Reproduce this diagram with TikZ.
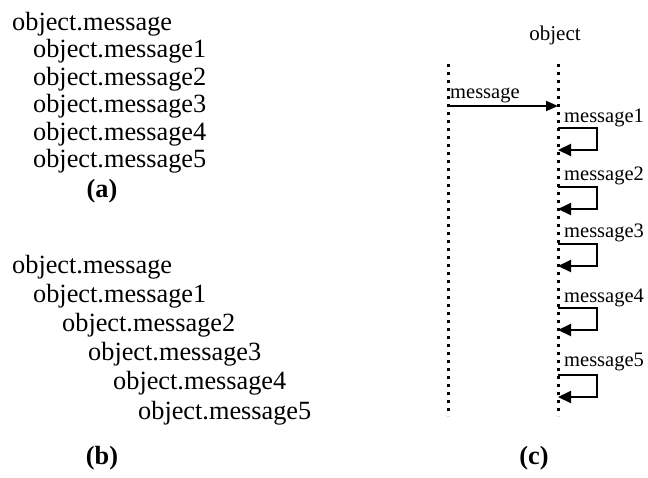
\documentclass[tikz,border=0pt]{standalone}
\usepackage{fontspec}
\setmainfont{Liberation Serif}
\usetikzlibrary{arrows.meta}
\begin{document}
\begin{tikzpicture}[x=1pt,y=-1pt,
  bigtxt/.style={anchor=base west,inner sep=0pt,font=\fontsize{26.3}{30}\selectfont},
  captxt/.style={anchor=base,inner sep=0pt,font=\fontsize{26.3}{30}\selectfont\bfseries},
  smalltxt/.style={anchor=base west,inner sep=0pt,font=\fontsize{20.5}{24}\selectfont},
  lifeline/.style={line width=3pt,dash pattern=on 3pt off 5pt},
  msgarrow/.style={line width=2pt,-{Triangle[length=12pt,width=10pt]}},
  selfloop/.style={line width=2pt,-{Triangle[length=13pt,width=12pt]}}]
\useasboundingbox (0,0) rectangle (648,477);
% (a)
\node[bigtxt] (a0) at (12,30) {object.message};
\node[bigtxt] (a1) at (33,57.5) {object.message1};
\node[bigtxt] (a2) at (33,85) {object.message2};
\node[bigtxt] (a3) at (33,112.5) {object.message3};
\node[bigtxt] (a4) at (33,140) {object.message4};
\node[bigtxt] (a5) at (33,167.5) {object.message5};
\node[captxt] (acap) at (102,197) {(a)};
% (b)
\node[bigtxt] (b0) at (12,273) {object.message};
\node[bigtxt] (b1) at (33,302) {object.message1};
\node[bigtxt] (b2) at (62,331) {object.message2};
\node[bigtxt] (b3) at (88,360) {object.message3};
\node[bigtxt] (b4) at (113,389) {object.message4};
\node[bigtxt] (b5) at (138,419) {object.message5};
\node[captxt] (bcap) at (102,464) {(b)};
% (c)
\coordinate (Ltop) at (448,64);
\coordinate (Lbot) at (448,416);
\coordinate (Rtop) at (558,64);
\coordinate (Rbot) at (558,416);
\draw[lifeline] (Ltop) -- (Lbot);
\draw[lifeline] (Rtop) -- (Rbot);
\node[anchor=base,inner sep=0pt,font=\fontsize{21}{24}\selectfont] (obj) at (555,40) {object};
\node[smalltxt] (m0) at (450,98) {message};
\coordinate (s0) at (448,106);
\coordinate (e0) at (558,106);
\draw[msgarrow] (s0) -- (e0);
\foreach \i/\ly/\ta/\tb in {1/122/128/150, 2/180/187/209, 3/237/244/266, 4/302/308/330, 5/366/375/397} {
  \node[smalltxt] (m\i) at (564,\ly) {message\i};
  \coordinate (p\i a) at (558,\ta);
  \coordinate (p\i b) at (597,\ta);
  \coordinate (p\i c) at (597,\tb);
  \coordinate (p\i d) at (558,\tb);
  \draw[selfloop] (p\i a) -- (p\i b) -- (p\i c) -- (p\i d);
}
\node[captxt] (ccap) at (534,464) {(c)};
\end{tikzpicture}
\end{document}
